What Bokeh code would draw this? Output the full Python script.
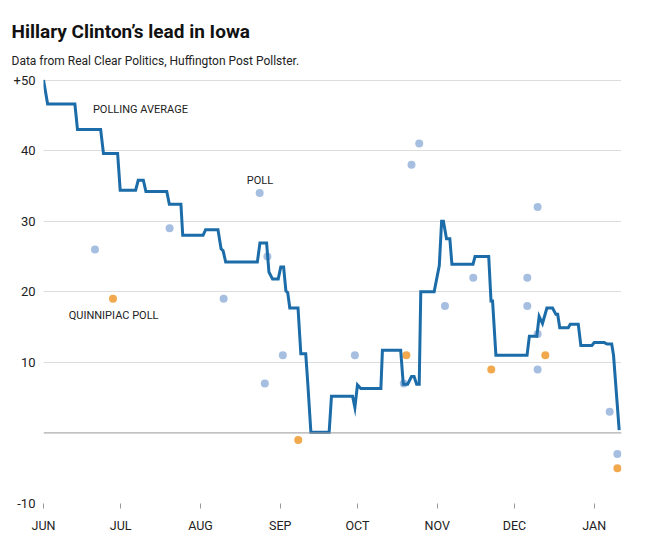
from bokeh.plotting import figure
from bokeh.models import FixedTicker, Span, Label, Title
from bokeh.embed import file_html
from bokeh.resources import INLINE

# days since June 1, 2015
avg_day = [0, 1.6, 12.2, 13.2, 22.2, 23.3, 28.8, 29.8, 35.8, 36.8, 38.8, 39.8, 47.9, 48.9,
           53.4, 54.1, 62, 63, 67.8, 69, 69.8, 70.8, 83.1, 84.1, 86.7, 87.6, 89, 91.2, 92.2,
           93.3, 94.2, 94.9, 95.7, 98.9, 100, 101.9, 102.7, 103.9, 111, 111.9, 120.1, 121,
           122, 123.3, 131.1, 131.7, 138.8, 139.8, 141.5, 143, 144, 145, 146, 146.6, 151.8,
           153.8, 154.7, 155.4, 156.6, 157.9, 158.7, 166.9, 167.7, 173, 173.9, 174.5, 175.8,
           187.9, 188.8, 191.7, 192.6, 193.9, 195.6, 197.8, 199.1, 199.8, 200.6, 203.9, 204.7,
           207.8, 208.8, 213.1, 214, 217.9, 219, 220.8, 221.5, 223.7]
avg_lead = [50, 46.6, 46.6, 43.0, 43.0, 39.6, 39.6, 34.4, 34.4, 35.8, 35.8, 34.2, 34.2, 32.4,
            32.4, 28.0, 28.0, 28.8, 28.8, 26.1, 25.8, 24.2, 24.2, 26.9, 26.9, 22.8, 21.8, 21.8,
            23.5, 23.5, 20.1, 19.9, 17.7, 17.7, 11.2, 11.2, 7.0, 0.1, 0.1, 5.2, 5.2, 3.6, 6.8,
            6.3, 6.3, 11.7, 11.7, 6.9, 6.9, 8.0, 8.0, 6.9, 6.9, 20.0, 20.0, 23.7, 30.0, 30.0,
            27.5, 27.5, 23.9, 23.9, 25.0, 25.0, 18.7, 18.7, 11.0, 11.0, 13.7, 13.7, 16.5, 15.5,
            17.7, 17.7, 16.8, 16.8, 14.9, 14.9, 15.4, 15.4, 12.4, 12.4, 12.8, 12.8, 12.6, 12.6,
            11.0, 0.4]

poll_day = [20, 49, 70, 84, 87, 86, 93, 121, 140, 143, 146, 156, 167, 188, 188, 192, 192, 192, 220, 223]
poll_lead = [26, 29, 19, 34, 25, 7, 11, 11, 7, 38, 41, 18, 22, 22, 18, 32, 14, 9, 3, -3]

quinnipiac_day = [27, 99, 141, 174, 195, 223]
quinnipiac_lead = [19, -1, 11, 9, 11, -5]

month_days = [0, 30, 61, 92, 122, 153, 183, 214]
month_labels = ["JUN", "JUL", "AUG", "SEP", "OCT", "NOV", "DEC", "JAN"]
y_ticks = [-10, 10, 20, 30, 40, 50]
y_labels = ["-10", "10", "20", "30", "40", "+50"]

title_text = "Hillary Clinton\u2019s lead in Iowa"
subtitle_text = "Data from Real Clear Politics, Huffington Post Pollster."

FONT = "Roboto"
LINE_COLOR = "#1b6ca8"
POLL_COLOR = "#a6bfe1"
Q_COLOR = "#f2a94e"

p = figure(width=645, height=548, x_range=(0, 224.6), y_range=(-10, 50.5),
           output_backend="svg", toolbar_location=None,
           min_border_left=43, min_border_right=24, min_border_bottom=45, min_border_top=76)

p.title.text = title_text
p.title.text_font = FONT
p.title.text_font_size = "19px"
p.title.text_font_style = "bold"
p.title.text_color = "#111111"
p.title.align = "left"
p.title.offset = -32
p.title.standoff = 0

sub = Title(text=subtitle_text, text_font=FONT, text_font_size="12px",
            text_font_style="normal", text_color="#222222", align="left", offset=-32,
            standoff=18)
p.add_layout(sub, "above")

p.outline_line_color = None
p.background_fill_color = "white"
p.border_fill_color = "white"

p.xgrid.visible = False
p.ygrid.ticker = FixedTicker(ticks=y_ticks)
p.ygrid.grid_line_color = "#bbbbbb"
p.ygrid.grid_line_dash = "1 1"
p.ygrid.grid_line_width = 1

p.yaxis.ticker = FixedTicker(ticks=y_ticks)
p.yaxis.major_label_overrides = dict(zip(y_ticks, y_labels))
p.yaxis.axis_line_color = None
p.yaxis.major_tick_line_color = None
p.yaxis.major_tick_in = 0
p.yaxis.major_tick_out = 0
p.yaxis.minor_tick_line_color = None
p.yaxis.minor_tick_out = 0
p.yaxis.minor_tick_in = 0
p.yaxis.major_label_standoff = 8
p.yaxis.major_label_text_font = FONT
p.yaxis.major_label_text_font_size = "13px"
p.yaxis.major_label_text_color = "#222222"

p.xaxis.ticker = FixedTicker(ticks=month_days)
p.xaxis.major_label_overrides = dict(zip(month_days, month_labels))
p.xaxis.axis_line_color = None
p.xaxis.major_tick_line_color = "#999999"
p.xaxis.major_tick_in = 0
p.xaxis.major_tick_out = 5
p.xaxis.minor_tick_line_color = None
p.xaxis.minor_tick_out = 0
p.xaxis.minor_tick_in = 0
p.xaxis.major_label_standoff = 9
p.xaxis.major_label_text_font = FONT
p.xaxis.major_label_text_font_size = "12.5px"
p.xaxis.major_label_text_color = "#222222"

p.add_layout(Span(location=0, dimension="width", line_color="#999999", line_width=1))

p.scatter(x=poll_day, y=poll_lead, size=8, color=POLL_COLOR, line_color=None)
p.scatter(x=quinnipiac_day, y=quinnipiac_lead, size=8, color=Q_COLOR, line_color=None)
p.line(x=avg_day, y=avg_lead, line_color=LINE_COLOR, line_width=3, line_join="miter")

for txt, xx, yy in [("POLLING AVERAGE", 19.2, 45.8), ("POLL", 79, 35.7), ("QUINNIPIAC POLL", 9.8, 16.7)]:
    p.add_layout(Label(x=xx, y=yy, text=txt, text_font=FONT, text_font_size="11px",
                       text_color="#222222", text_baseline="middle", text_align="left"))

open("out.html", "w").write(file_html(p, INLINE))
